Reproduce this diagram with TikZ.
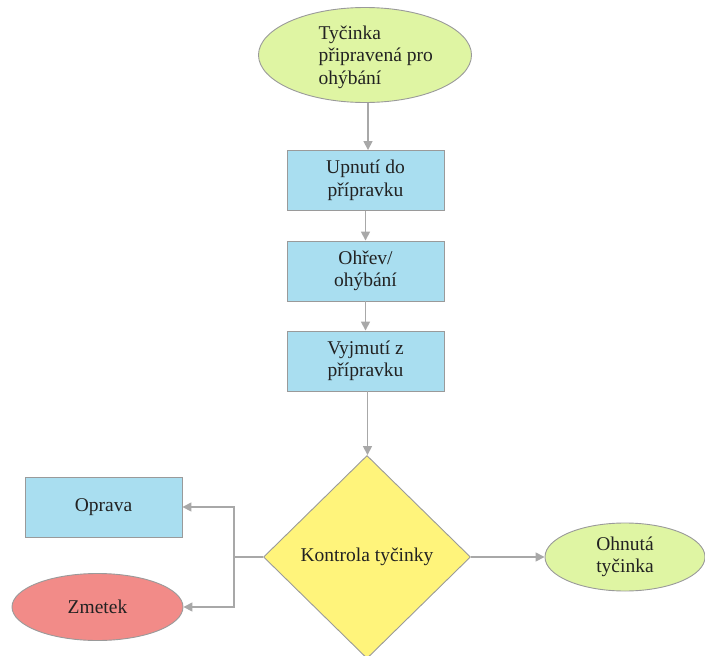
\documentclass[tikz,border=0pt]{standalone}
\usepackage{fontspec}
\setmainfont{Liberation Serif}
\usetikzlibrary{shapes.geometric,arrows.meta}
\definecolor{cgreen}{HTML}{DFF5A3}
\definecolor{cblue}{HTML}{A9DEF0}
\definecolor{cyellow}{HTML}{FFF47B}
\definecolor{cred}{HTML}{F28B88}
\definecolor{cborder}{HTML}{9A9A9A}
\definecolor{carrow}{HTML}{A8A8A8}
\definecolor{ctext}{HTML}{222222}
\tikzset{
  every node/.style={font=\fontsize{19.5}{22.5}\selectfont, text=ctext},
  procbox/.style={draw=cborder, line width=0.9pt, fill=cblue, minimum width=157pt, minimum height=60pt, align=center, inner sep=0pt},
  termgreen/.style={ellipse, draw=cborder, line width=0.9pt, fill=cgreen, inner sep=0pt},
  termred/.style={ellipse, draw=cborder, line width=0.9pt, fill=cred, inner sep=0pt},
  decide/.style={diamond, draw=cborder, line width=0.9pt, fill=cyellow, inner sep=0pt, minimum width=207pt, minimum height=203pt},
  conn/.style={draw=carrow, line width=1.6pt, -{Triangle[length=9pt,width=9pt]}},
  plain/.style={draw=carrow, line width=1.6pt}
}
\begin{document}
\begin{tikzpicture}[x=1pt,y=-1pt]
\useasboundingbox (0,0) rectangle (705,656);
\node[termgreen, minimum width=213pt, minimum height=95pt] (start) at (365,55) {};
\node[anchor=west, align=left] (starttext) at (315,57) {Tyčinka\\připravená pro\\ohýbání};
\node[procbox] (b1) at (365.5,180.5) {Upnutí do\\přípravku};
\node[procbox] (b2) at (365.5,271) {Ohřev/\\ohýbání};
\node[procbox] (b3) at (365.5,361) {Vyjmutí z\\přípravku};
\node[decide] (dec) at (367,557) {Kontrola tyčinky};
\node[procbox] (opr) at (103.5,507) {Oprava};
\node[termred, minimum width=171pt, minimum height=67pt] (zm) at (97.5,607) {Zmetek};
\node[termgreen, minimum width=160pt, minimum height=68pt, align=center] (ohn) at (625,557) {Ohnutá\\tyčinka};
\coordinate (j) at (234,557);
\draw[conn] (start.south) ++(3,0) coordinate (s1) -- (s1 |- b1.north);
\draw[conn] (b1) -- (b2);
\draw[conn] (b2) -- (b3);
\draw[conn] (b3.south) ++(2,0) coordinate (s3) -- (s3 |- dec.north);
\draw[conn] (dec.east) -- (ohn.west);
\draw[plain] (dec.west) -- (j);
\draw[conn] (j) |- (opr.east);
\draw[conn] (j) |- (zm.east);
\end{tikzpicture}
\end{document}
